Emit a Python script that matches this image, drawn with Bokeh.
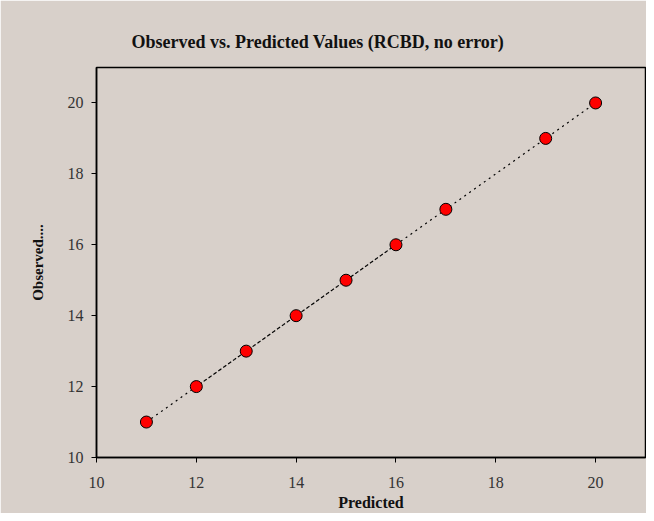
from bokeh.plotting import figure
from bokeh.models import Range1d, FixedTicker, Title
from bokeh.embed import file_html
from bokeh.resources import INLINE

predicted = [11, 12, 13, 14, 15, 16, 17, 19, 20]
observed = [11, 12, 13, 14, 15, 16, 17, 19, 20]
fit_x = [11, 20]
fit_y = [11, 20]
seg_x = [12, 13, 14, 15, 16]
seg_y = [12, 13, 14, 15, 16]
ticks = [10, 12, 14, 16, 18, 20]

BG = "#D8D0CA"
FONT = "Liberation Serif"

p = figure(width=646, height=513, output_backend="svg", toolbar_location=None,
           x_range=Range1d(10, 21), y_range=Range1d(10, 21),
           min_border_left=96, min_border_right=1, min_border_top=67, min_border_bottom=55)
p.background_fill_color = BG
p.border_fill_color = BG
p.outline_line_color = "black"
p.outline_line_width = 1.5
p.grid.visible = False

t = Title(text="Observed vs. Predicted Values (RCBD, no error)", align="left", offset=35,
          text_font=FONT, text_font_size="18px", text_font_style="bold", text_color="#111111",
          standoff=31)
p.add_layout(t, "above")

for ax in (p.xaxis, p.yaxis):
    ax.ticker = FixedTicker(ticks=ticks)
    ax.minor_tick_line_color = None
    ax.axis_line_color = "black"
    ax.axis_line_width = 1.5
    ax.major_tick_line_color = "black"
    ax.major_tick_line_width = 1
    ax.major_tick_out = 5
    ax.major_tick_in = 0
    ax.major_label_text_font = FONT
    ax.major_label_text_font_size = "16px"
    ax.major_label_text_color = "#333333"
    ax.axis_label_text_font = FONT
    ax.axis_label_text_font_style = "bold"
    ax.axis_label_text_color = "#111111"

p.xaxis.axis_label_text_font_size = "16px"
p.yaxis.axis_label_text_font_size = "15px"
p.xaxis.axis_label = "Predicted"
p.yaxis.axis_label = "Observed...."
p.xaxis.major_label_standoff = 14
p.yaxis.major_label_standoff = 8
p.xaxis.axis_label_standoff = 3
p.yaxis.axis_label_standoff = 19

p.line(fit_x, fit_y, line_color="black", line_width=1.2, line_dash="2 4")
p.line(seg_x, seg_y, line_color="black", line_width=1.2, line_dash="2 4", line_dash_offset=3)
p.scatter(predicted, observed, size=12, fill_color="#FF0000", line_color="black", line_width=1)

open("out.html", "w").write(file_html(p, INLINE))
